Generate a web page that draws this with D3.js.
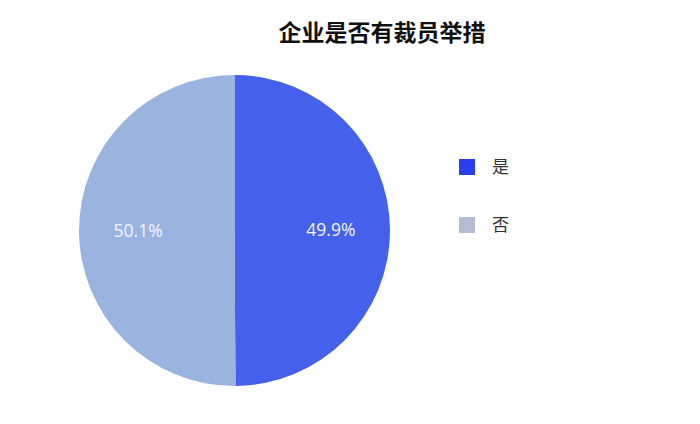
<!DOCTYPE html>
<html>
<head>
<meta charset="utf-8">
<script src="https://cdn.jsdelivr.net/npm/d3@7"></script>
<style>
  body { margin: 0; background: #fff; }
  svg { display: block; }
</style>
</head>
<body>
<svg></svg>
<script>
// chart data
const categories = ['是', '否'];
const values = [49.9, 50.1];
const sliceColors = ['#4560ea', '#9bb3df'];
const legendColors = ['#2a3ef0', '#b5bdd4'];

const width = 700;
const height = 424;

const svg = d3.select('svg').attr('width', width).attr('height', height);

// title
svg.append('text')
    .attr('x', 382)
    .attr('y', 41)
    .attr('text-anchor', 'middle')
    .style('font-family', '"Noto Sans CJK SC", sans-serif')
    .style('font-weight', 'bold')
    .style('font-size', '23px')
    .attr('fill', '#111')
    .text('企业是否有裁员举措');

const cx = 234.5, cy = 230.5, r = 155.5;

const pie = d3.pie().sort(null).value(d => d.value);
const arc = d3.arc().innerRadius(0).outerRadius(r);
const labelArc = d3.arc().innerRadius(r * 0.62).outerRadius(r * 0.62);

const data = categories.map((c, i) => ({ name: c, value: values[i] }));

const g = svg.append('g').attr('transform', `translate(${cx},${cy})`);

const arcs = pie(data);

g.selectAll('path')
    .data(arcs)
    .join('path')
        .attr('d', arc)
        .attr('fill', (d, i) => sliceColors[i]);

g.selectAll('text')
    .data(arcs)
    .join('text')
        .attr('transform', d => {
            const [x, y] = labelArc.centroid(d);
            return `translate(${x},${y})`;
        })
        .attr('text-anchor', 'middle')
        .attr('dy', '0.35em')
        .style('font-family', '"Open Sans", "Noto Sans", sans-serif')
        .style('font-size', '17.5px')
        .attr('fill', '#f4f6fc')
        .text(d => d.data.value.toFixed(1) + '%');

// legend
const legend = svg.append('g').attr('transform', 'translate(459,159)');
const item = legend.selectAll('g')
    .data(categories)
    .join('g')
        .attr('transform', (d, i) => `translate(0,${i * 58})`);

item.append('rect')
    .attr('width', 16)
    .attr('height', 16)
    .attr('fill', (d, i) => legendColors[i]);

item.append('text')
    .attr('x', 33)
    .attr('y', 8)
    .attr('dy', '0.35em')
    .style('font-family', '"Noto Sans CJK SC", sans-serif')
    .style('font-size', '17px')
    .attr('fill', '#333')
    .text(d => d);
</script>
</body>
</html>
